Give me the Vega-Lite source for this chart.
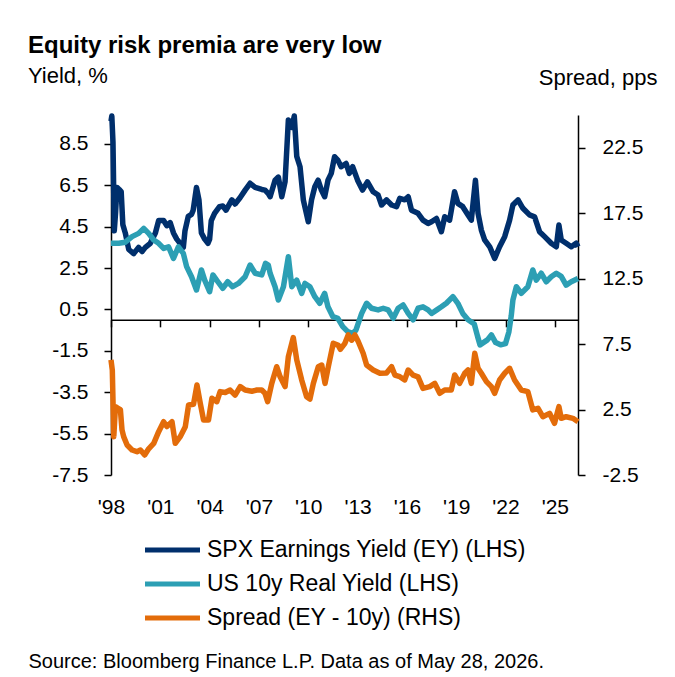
{
 "$schema": "https://vega.github.io/schema/vega-lite/v6.json",
 "width": 467,
 "height": 360,
 "autosize": {"type": "none"},
 "padding": {"left": 111, "top": 115, "right": 97, "bottom": 202},
 "background": "white",
 "title": {"text": "Equity risk premia are very low", "subtitle": "Yield, %", "anchor": "start", "frame": "group", "dx": -83, "dy": 25},
 "datasets": {
  "ey": [
   {"t": 1998.00, "v": 9.6}, {"t": 1998.05, "v": 9.85}, {"t": 1998.12, "v": 8.6}, {"t": 1998.20, "v": 4.3}, {"t": 1998.28, "v": 5.2},
   {"t": 1998.36, "v": 6.4}, {"t": 1998.50, "v": 6.3}, {"t": 1998.62, "v": 6.2}, {"t": 1998.72, "v": 4.6}, {"t": 1998.87, "v": 4.2},
   {"t": 1999.08, "v": 3.4}, {"t": 1999.38, "v": 3.2}, {"t": 1999.68, "v": 3.5}, {"t": 1999.89, "v": 3.3}, {"t": 2000.09, "v": 3.5},
   {"t": 2000.39, "v": 3.7}, {"t": 2000.70, "v": 4.2}, {"t": 2000.90, "v": 4.8}, {"t": 2001.20, "v": 4.8}, {"t": 2001.40, "v": 4.55},
   {"t": 2001.60, "v": 4.7}, {"t": 2001.80, "v": 4.2}, {"t": 2002.00, "v": 3.9}, {"t": 2002.20, "v": 3.7}, {"t": 2002.40, "v": 3.5},
   {"t": 2002.50, "v": 4.3}, {"t": 2002.70, "v": 5.0}, {"t": 2002.90, "v": 5.1}, {"t": 2003.00, "v": 5.3}, {"t": 2003.20, "v": 6.4},
   {"t": 2003.35, "v": 5.8}, {"t": 2003.50, "v": 4.2}, {"t": 2003.70, "v": 3.9}, {"t": 2003.90, "v": 3.7}, {"t": 2004.00, "v": 3.9},
   {"t": 2004.10, "v": 4.8}, {"t": 2004.30, "v": 5.15}, {"t": 2004.60, "v": 5.47}, {"t": 2004.80, "v": 5.5}, {"t": 2005.00, "v": 5.3},
   {"t": 2005.35, "v": 5.8}, {"t": 2005.55, "v": 5.6}, {"t": 2005.85, "v": 5.9}, {"t": 2006.16, "v": 6.27}, {"t": 2006.46, "v": 6.6},
   {"t": 2006.77, "v": 6.4}, {"t": 2007.17, "v": 6.3}, {"t": 2007.37, "v": 6.27}, {"t": 2007.57, "v": 6.1}, {"t": 2007.68, "v": 5.95},
   {"t": 2007.98, "v": 6.75}, {"t": 2008.18, "v": 6.9}, {"t": 2008.39, "v": 5.95}, {"t": 2008.59, "v": 6.68}, {"t": 2008.79, "v": 9.66},
   {"t": 2009.00, "v": 9.3}, {"t": 2009.15, "v": 9.85}, {"t": 2009.30, "v": 7.9}, {"t": 2009.50, "v": 7.4}, {"t": 2009.70, "v": 5.8},
   {"t": 2010.00, "v": 4.74}, {"t": 2010.20, "v": 5.8}, {"t": 2010.40, "v": 6.43}, {"t": 2010.60, "v": 6.75}, {"t": 2010.80, "v": 6.27},
   {"t": 2011.00, "v": 5.95}, {"t": 2011.20, "v": 6.75}, {"t": 2011.40, "v": 7.08}, {"t": 2011.60, "v": 7.88}, {"t": 2011.80, "v": 7.72},
   {"t": 2012.00, "v": 7.4}, {"t": 2012.30, "v": 7.56}, {"t": 2012.50, "v": 7.08}, {"t": 2012.70, "v": 7.4}, {"t": 2013.00, "v": 6.75},
   {"t": 2013.30, "v": 6.27}, {"t": 2013.60, "v": 6.67}, {"t": 2013.95, "v": 6.19}, {"t": 2014.25, "v": 6.03}, {"t": 2014.46, "v": 5.55},
   {"t": 2014.76, "v": 5.8}, {"t": 2015.07, "v": 5.55}, {"t": 2015.37, "v": 5.47}, {"t": 2015.57, "v": 5.87}, {"t": 2015.87, "v": 5.8},
   {"t": 2016.08, "v": 5.95}, {"t": 2016.28, "v": 5.3}, {"t": 2016.68, "v": 5.15}, {"t": 2016.98, "v": 4.82}, {"t": 2017.29, "v": 4.66},
   {"t": 2017.50, "v": 4.74}, {"t": 2017.80, "v": 4.9}, {"t": 2018.10, "v": 4.26}, {"t": 2018.30, "v": 4.98}, {"t": 2018.60, "v": 4.82},
   {"t": 2018.90, "v": 6.19}, {"t": 2019.10, "v": 5.63}, {"t": 2019.40, "v": 5.47}, {"t": 2019.72, "v": 5.07}, {"t": 2019.92, "v": 4.82},
   {"t": 2020.17, "v": 6.75}, {"t": 2020.33, "v": 5.15}, {"t": 2020.53, "v": 4.34}, {"t": 2020.73, "v": 3.86}, {"t": 2021.04, "v": 3.53},
   {"t": 2021.34, "v": 2.97}, {"t": 2021.64, "v": 3.53}, {"t": 2021.95, "v": 4.02}, {"t": 2022.25, "v": 4.82}, {"t": 2022.45, "v": 5.55},
   {"t": 2022.76, "v": 5.8}, {"t": 2023.06, "v": 5.39}, {"t": 2023.46, "v": 5.07}, {"t": 2023.77, "v": 4.98}, {"t": 2024.07, "v": 4.26},
   {"t": 2024.38, "v": 4.02}, {"t": 2024.78, "v": 3.7}, {"t": 2025.09, "v": 3.53}, {"t": 2025.25, "v": 4.58}, {"t": 2025.39, "v": 3.86},
   {"t": 2025.69, "v": 3.7}, {"t": 2026.00, "v": 3.53}, {"t": 2026.30, "v": 3.7}, {"t": 2026.41, "v": 3.53}
  ],
  "ry": [
   {"t": 1998.00, "v": 3.7}, {"t": 1998.47, "v": 3.7}, {"t": 1998.87, "v": 3.75}, {"t": 1999.28, "v": 4.02}, {"t": 1999.68, "v": 4.18},
   {"t": 1999.99, "v": 4.42}, {"t": 2000.29, "v": 4.18}, {"t": 2000.60, "v": 3.86}, {"t": 2000.90, "v": 3.7}, {"t": 2001.20, "v": 3.45},
   {"t": 2001.50, "v": 3.53}, {"t": 2001.80, "v": 2.97}, {"t": 2002.10, "v": 3.53}, {"t": 2002.40, "v": 3.21}, {"t": 2002.60, "v": 2.57},
   {"t": 2002.90, "v": 2.08}, {"t": 2003.20, "v": 1.44}, {"t": 2003.50, "v": 2.41}, {"t": 2003.70, "v": 1.92}, {"t": 2004.00, "v": 1.36},
   {"t": 2004.20, "v": 2.17}, {"t": 2004.50, "v": 1.84}, {"t": 2004.80, "v": 1.52}, {"t": 2005.10, "v": 1.84}, {"t": 2005.40, "v": 1.6},
   {"t": 2005.75, "v": 1.76}, {"t": 2006.16, "v": 2.08}, {"t": 2006.46, "v": 2.65}, {"t": 2006.77, "v": 2.25}, {"t": 2007.17, "v": 2.17},
   {"t": 2007.40, "v": 2.73}, {"t": 2007.57, "v": 2.65}, {"t": 2007.68, "v": 2.25}, {"t": 2007.98, "v": 1.6}, {"t": 2008.18, "v": 0.96},
   {"t": 2008.49, "v": 1.6}, {"t": 2008.79, "v": 3.05}, {"t": 2009.00, "v": 1.6}, {"t": 2009.30, "v": 1.92}, {"t": 2009.60, "v": 1.28},
   {"t": 2009.80, "v": 1.76}, {"t": 2010.10, "v": 1.6}, {"t": 2010.40, "v": 1.12}, {"t": 2010.70, "v": 0.8}, {"t": 2011.00, "v": 1.28},
   {"t": 2011.20, "v": 0.63}, {"t": 2011.50, "v": 0.15}, {"t": 2011.80, "v": 0.07}, {"t": 2012.10, "v": -0.33}, {"t": 2012.40, "v": -0.57},
   {"t": 2012.70, "v": -0.65}, {"t": 2012.90, "v": -0.5}, {"t": 2013.25, "v": 0.31}, {"t": 2013.55, "v": 0.8}, {"t": 2013.85, "v": 0.56},
   {"t": 2014.25, "v": 0.48}, {"t": 2014.56, "v": 0.56}, {"t": 2014.86, "v": 0.48}, {"t": 2015.17, "v": 0.07}, {"t": 2015.47, "v": 0.56},
   {"t": 2015.77, "v": 0.72}, {"t": 2016.08, "v": 0.31}, {"t": 2016.38, "v": 0.0}, {"t": 2016.68, "v": 0.56}, {"t": 2016.98, "v": 0.63},
   {"t": 2017.29, "v": 0.48}, {"t": 2017.50, "v": 0.31}, {"t": 2017.80, "v": 0.47}, {"t": 2018.10, "v": 0.63}, {"t": 2018.40, "v": 0.8},
   {"t": 2018.80, "v": 1.12}, {"t": 2019.10, "v": 0.8}, {"t": 2019.40, "v": 0.31}, {"t": 2019.72, "v": 0.0}, {"t": 2020.10, "v": -0.2},
   {"t": 2020.30, "v": -0.8}, {"t": 2020.45, "v": -1.21}, {"t": 2020.90, "v": -0.97}, {"t": 2021.14, "v": -0.73}, {"t": 2021.40, "v": -1.1},
   {"t": 2021.70, "v": -1.21}, {"t": 2022.00, "v": -1.15}, {"t": 2022.20, "v": -0.6}, {"t": 2022.35, "v": 0.2}, {"t": 2022.45, "v": 0.96},
   {"t": 2022.66, "v": 1.6}, {"t": 2022.96, "v": 1.28}, {"t": 2023.36, "v": 1.6}, {"t": 2023.66, "v": 2.41}, {"t": 2023.87, "v": 1.92},
   {"t": 2024.17, "v": 2.25}, {"t": 2024.48, "v": 1.84}, {"t": 2024.78, "v": 2.08}, {"t": 2025.09, "v": 2.25}, {"t": 2025.39, "v": 2.1},
   {"t": 2025.69, "v": 1.68}, {"t": 2026.00, "v": 1.84}, {"t": 2026.41, "v": 2.0}
  ],
  "sp": [
   {"t": 1998.00, "v": 6.29}, {"t": 1998.08, "v": 5.5}, {"t": 1998.17, "v": 0.43}, {"t": 1998.27, "v": 2.72}, {"t": 1998.43, "v": 2.6},
   {"t": 1998.57, "v": 2.5}, {"t": 1998.67, "v": 0.94}, {"t": 1998.77, "v": 0.43}, {"t": 1998.98, "v": -0.21}, {"t": 1999.28, "v": -0.59},
   {"t": 1999.58, "v": -0.72}, {"t": 1999.79, "v": -0.59}, {"t": 2000.05, "v": -0.97}, {"t": 2000.29, "v": -0.5}, {"t": 2000.60, "v": -0.08},
   {"t": 2000.90, "v": 0.81}, {"t": 2001.20, "v": 1.57}, {"t": 2001.40, "v": 1.2}, {"t": 2001.71, "v": 1.57}, {"t": 2001.91, "v": -0.08},
   {"t": 2002.21, "v": 0.43}, {"t": 2002.52, "v": 1.19}, {"t": 2002.72, "v": 2.85}, {"t": 2003.02, "v": 2.9}, {"t": 2003.23, "v": 4.38},
   {"t": 2003.43, "v": 2.98}, {"t": 2003.63, "v": 1.7}, {"t": 2003.93, "v": 1.7}, {"t": 2004.14, "v": 3.36}, {"t": 2004.44, "v": 3.1},
   {"t": 2004.64, "v": 3.87}, {"t": 2004.95, "v": 3.8}, {"t": 2005.25, "v": 3.99}, {"t": 2005.55, "v": 3.6}, {"t": 2005.86, "v": 4.25},
   {"t": 2006.16, "v": 3.99}, {"t": 2006.57, "v": 3.9}, {"t": 2006.87, "v": 3.99}, {"t": 2007.17, "v": 3.99}, {"t": 2007.37, "v": 3.74},
   {"t": 2007.53, "v": 3.1}, {"t": 2007.78, "v": 4.5}, {"t": 2008.08, "v": 5.77}, {"t": 2008.29, "v": 5.0}, {"t": 2008.59, "v": 4.25},
   {"t": 2008.79, "v": 6.54}, {"t": 2009.09, "v": 8.0}, {"t": 2009.30, "v": 6.29}, {"t": 2009.60, "v": 4.76}, {"t": 2009.90, "v": 3.48},
   {"t": 2010.10, "v": 3.3}, {"t": 2010.31, "v": 4.5}, {"t": 2010.61, "v": 5.77}, {"t": 2010.82, "v": 5.9}, {"t": 2011.02, "v": 4.5},
   {"t": 2011.22, "v": 5.77}, {"t": 2011.52, "v": 7.56}, {"t": 2011.83, "v": 7.4}, {"t": 2011.95, "v": 7.1}, {"t": 2012.23, "v": 7.56},
   {"t": 2012.43, "v": 8.2}, {"t": 2012.64, "v": 7.8}, {"t": 2012.84, "v": 8.2}, {"t": 2013.04, "v": 7.7}, {"t": 2013.34, "v": 6.8},
   {"t": 2013.55, "v": 5.9}, {"t": 2013.95, "v": 5.52}, {"t": 2014.36, "v": 5.27}, {"t": 2014.76, "v": 5.3}, {"t": 2015.07, "v": 5.77},
   {"t": 2015.27, "v": 5.13}, {"t": 2015.57, "v": 5.01}, {"t": 2015.87, "v": 4.76}, {"t": 2016.08, "v": 5.52}, {"t": 2016.38, "v": 5.13},
   {"t": 2016.68, "v": 5.0}, {"t": 2016.98, "v": 4.12}, {"t": 2017.39, "v": 4.25}, {"t": 2017.70, "v": 4.5}, {"t": 2018.00, "v": 3.74},
   {"t": 2018.30, "v": 3.99}, {"t": 2018.70, "v": 3.99}, {"t": 2018.91, "v": 5.14}, {"t": 2019.21, "v": 4.5}, {"t": 2019.52, "v": 5.27},
   {"t": 2019.72, "v": 5.52}, {"t": 2019.92, "v": 4.5}, {"t": 2020.13, "v": 6.8}, {"t": 2020.33, "v": 5.65}, {"t": 2020.53, "v": 5.27},
   {"t": 2020.84, "v": 4.63}, {"t": 2021.14, "v": 4.25}, {"t": 2021.34, "v": 3.74}, {"t": 2021.64, "v": 4.76}, {"t": 2021.95, "v": 5.27},
   {"t": 2022.25, "v": 5.65}, {"t": 2022.55, "v": 4.76}, {"t": 2022.96, "v": 3.99}, {"t": 2023.36, "v": 3.87}, {"t": 2023.66, "v": 2.47},
   {"t": 2023.97, "v": 2.6}, {"t": 2024.27, "v": 1.95}, {"t": 2024.68, "v": 2.21}, {"t": 2024.98, "v": 1.45}, {"t": 2025.25, "v": 2.72},
   {"t": 2025.39, "v": 1.83}, {"t": 2025.69, "v": 1.95}, {"t": 2026.10, "v": 1.83}, {"t": 2026.41, "v": 1.57}
  ]
 },
 "encoding": {
  "x": {
   "field": "t", "type": "quantitative",
   "scale": {"domain": [1998, 2026.41], "nice": false, "zero": false},
   "axis": {
    "values": [1998, 2001, 2004, 2007, 2010, 2013, 2016, 2019, 2022, 2025],
    "labelExpr": "\"'\" + substring(toString(datum.value), 2, 4)",
    "offset": -155.17,
    "labelPadding": 170,
    "labelFlush": false,
    "labelOverlap": false,
    "title": "Source: Bloomberg Finance L.P. Data as of May 28, 2026.",
    "titleX": -83, "titleY": 348, "titleAlign": "left", "titleBaseline": "alphabetic",
    "titleFontSize": 20, "titleAngle": 0
   }
  }
 },
 "layer": [
  {
   "layer": [
    {
     "data": {"name": "ey"},
     "mark": {"type": "line", "strokeWidth": 5.5, "strokeJoin": "round"},
     "encoding": {
      "y": {
       "field": "v", "type": "quantitative",
       "scale": {"domain": [-7.5, 9.9], "nice": false, "zero": false},
       "axis": {"orient": "left", "values": [-7.5, -5.5, -3.5, -1.5, 0.5, 2.5, 4.5, 6.5, 8.5],
                "labelExpr": "(datum.value < 0 ? '-' : '') + format(abs(datum.value), '.1f')",
                "labelPadding": 16, "title": null}
      },
      "color": {
       "datum": "SPX Earnings Yield (EY) (LHS)",
       "scale": {"domain": ["SPX Earnings Yield (EY) (LHS)", "US 10y Real Yield (LHS)", "Spread (EY - 10y) (RHS)"],
                 "range": ["#002F6C", "#2C9FB4", "#E36C0A"]},
       "legend": {"orient": "none", "legendX": 48, "legendY": 421.5, "title": null, "direction": "vertical",
                  "symbolType": "M-2.5,0H2.5", "symbolSize": 484, "symbolStrokeWidth": 5,
                  "labelFontSize": 23, "labelOffset": 21, "rowPadding": 8, "padding": 0, "labelLimit": 600, "labelColor": "#000000"}
      }
     }
    },
    {
     "data": {"name": "ry"},
     "mark": {"type": "line", "strokeWidth": 5.5, "strokeJoin": "round"},
     "encoding": {
      "y": {
       "field": "v", "type": "quantitative",
       "scale": {"domain": [-7.5, 9.9], "nice": false, "zero": false},
       "axis": {"orient": "left", "values": [-7.5, -5.5, -3.5, -1.5, 0.5, 2.5, 4.5, 6.5, 8.5],
                "labelExpr": "(datum.value < 0 ? '-' : '') + format(abs(datum.value), '.1f')",
                "labelPadding": 16, "title": null}
      },
      "color": {"datum": "US 10y Real Yield (LHS)"}
     }
    }
   ]
  },
  {
   "data": {"name": "sp"},
   "mark": {"type": "line", "strokeWidth": 5.5, "strokeJoin": "round"},
   "encoding": {
    "y": {
     "field": "v", "type": "quantitative",
     "scale": {"domain": [-2.5, 25], "nice": false, "zero": false},
     "axis": {"orient": "right", "values": [-2.5, 2.5, 7.5, 12.5, 17.5, 22.5],
              "labelExpr": "(datum.value < 0 ? '-' : '') + format(abs(datum.value), '.1f')",
              "labelPadding": 17, "title": "Spread, pps", "titleAngle": 0, "titleAlign": "right",
              "titleX": 79, "titleY": -31, "titleBaseline": "alphabetic", "titleFontSize": 22}
    },
    "color": {"datum": "Spread (EY - 10y) (RHS)"}
   }
  }
 ],
 "resolve": {"scale": {"y": "independent"}},
 "config": {
  "font": "Liberation Sans",
  "view": {"stroke": null},
  "axis": {"grid": false, "domainColor": "#000000", "domainWidth": 1.5, "tickColor": "#000000", "tickWidth": 1.5,
           "tickSize": 7, "labelColor": "#000000", "labelFontSize": 21, "titleColor": "#000000", "titleFontWeight": "normal"},
  "title": {"color": "#000000", "fontSize": 24, "fontWeight": "bold", "subtitleColor": "#000000", "subtitleFontSize": 22,
            "subtitlePadding": 8, "offset": 4}
 }
}
